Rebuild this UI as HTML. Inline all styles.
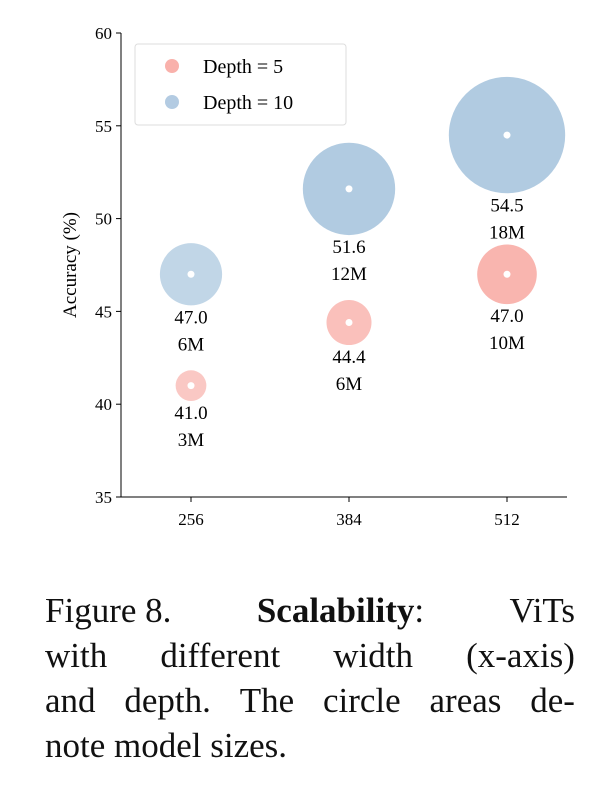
<!DOCTYPE html>
<html><head><meta charset="utf-8"><style>
body{margin:0;background:#fff;width:610px;height:804px;overflow:hidden;font-family:"Liberation Serif",serif}
.cap{position:absolute;left:45px;width:530px;font-size:35px;line-height:45px;color:#111}
.cap div{white-space:nowrap}
</style></head><body>
<svg id="chart" width="610" height="560" style="position:absolute;left:0;top:0" font-family="Liberation Serif, serif"></svg>
<div class="cap" style="top:588px">
<div style="display:flex;justify-content:space-between"><span>Figure 8.</span><span><b>Scalability</b>:</span><span>ViTs</span></div>
<div style="display:flex;justify-content:space-between"><span>with</span><span>different</span><span>width</span><span>(x-axis)</span></div>
<div style="display:flex;justify-content:space-between"><span>and</span><span>depth.</span><span>The</span><span>circle</span><span>areas</span><span>de-</span></div>
<div>note model sizes.</div>
</div>
<script>
const widths=[256,384,512];
const depth5Acc=[41.0,44.4,47.0];
const depth5Size=[3,6,10];
const depth10Acc=[47.0,51.6,54.5];
const depth10Size=[6,12,18];
const yTicks=[35,40,45,50,55,60];
const NS="http://www.w3.org/2000/svg";
const svg=document.getElementById('chart');
const X0=121,XR=567,Y0=497,Y1=33;
const xScale=w=>191+(w-256)/256*316;
const yScale=v=>Y0-(v-35)/25*(Y0-Y1);
function mk(t,a,p){const e=document.createElementNS(NS,t);for(const k in a)e.setAttribute(k,a[k]);(p||svg).appendChild(e);return e;}
let e;
e=mk('line',{x1:X0,y1:Y1,x2:X0,y2:Y0+0.5,stroke:'#000','stroke-width':1});


e=mk('line',{x1:X0,y1:Y0,x2:XR,y2:Y0,stroke:'#000','stroke-width':1});


yTicks.forEach(v=>{const y=yScale(v);
 e=mk('line',{x1:X0-5,y1:y,x2:X0,y2:y,stroke:'#000'});
 
 
 e=mk('text',{x:X0-9,y:y+6,'text-anchor':'end','font-size':17});e.textContent=v;
 
 });
widths.forEach(w=>{const x=xScale(w);
 e=mk('line',{x1:x,y1:Y0,x2:x,y2:Y0+5,stroke:'#000'});
 
 
 e=mk('text',{x:x,y:Y0+28,'text-anchor':'middle','font-size':17});e.textContent=w;
 
 });
e=mk('text',{x:0,y:0,'text-anchor':'middle','font-size':19,transform:`translate(76,265) rotate(-90)`});e.textContent='Accuracy (%)';


function series(acc,size,color,k,pw,name){
 acc.forEach((a,i)=>{const cx=xScale(widths[i]),cy=yScale(a),r=k*Math.pow(size[i],pw);
  const op=Math.min(0.85,0.5+0.03*size[i]);
  e=mk('circle',{cx,cy,r,fill:color,'fill-opacity':op});
  
  
  e=mk('circle',{cx,cy,r:3.5,fill:'#fff'});
  
  
  e=mk('text',{x:cx,y:cy+r+18,'text-anchor':'middle','font-size':19});e.textContent=a.toFixed(1);
  
  
  e=mk('text',{x:cx,y:cy+r+45,'text-anchor':'middle','font-size':19});e.textContent=size[i]+'M';
  
  
 });
}
series(depth5Acc,depth5Size,'#f7a29b',8.4,0.55,'depth5');
series(depth10Acc,depth10Size,'#a3c2dc',11.2,0.57,'depth10');
const lg=mk('g',{});


mk('rect',{x:135,y:44,width:211,height:81,rx:3,fill:'#fff','fill-opacity':0.85,stroke:'#ddd'},lg);
[['Depth = 5','#f9b1ab',66],['Depth = 10','#b3cbe2',102]].forEach(([t,c,y])=>{
 e=mk('circle',{cx:172,cy:y,r:7,fill:c},lg);
 
 
 e=mk('text',{x:203,y:y+7,'font-size':20},lg);e.textContent=t;
 
 
});
</script>
</body></html>
